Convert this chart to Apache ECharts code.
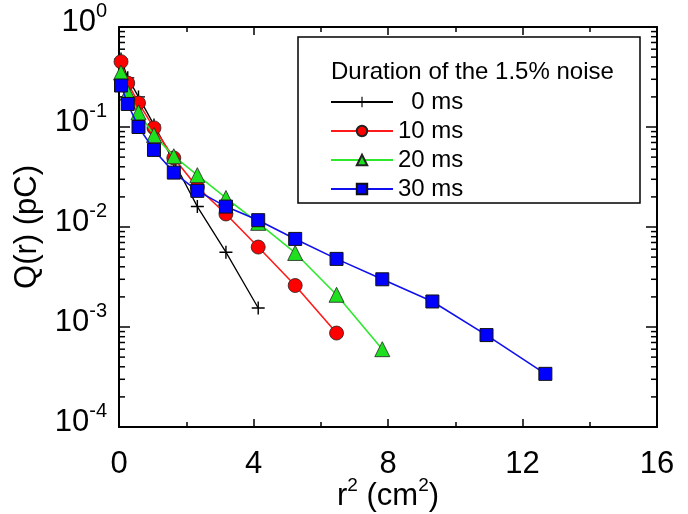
<!DOCTYPE html>
<html>
<head>
<meta charset="utf-8">
<script src="https://cdn.jsdelivr.net/npm/echarts@6/dist/echarts.min.js"></script>
<style>
html,body{margin:0;padding:0;background:#fff;}
#chart{width:688px;height:514px;}
</style>
</head>
<body>
<div id="chart"></div>
<script>
// ---- data ----
const r2 = [0.06, 0.26, 0.58, 1.04, 1.63, 2.33, 3.18, 4.14, 5.24, 6.47, 7.83, 9.32, 10.93, 12.68];
const q0ms  = [0.48, 0.31, 0.20, 0.105, 0.045, 0.016, 0.0056, 0.00155];
const q10ms = [0.45, 0.275, 0.174, 0.098, 0.049, 0.025, 0.0135, 0.0063, 0.0026, 0.00087];
const q20ms = [0.35, 0.22, 0.14, 0.083, 0.051, 0.033, 0.0195, 0.011, 0.0055, 0.0021, 0.0006];
const q30ms = [0.26, 0.17, 0.10, 0.059, 0.035, 0.023, 0.016, 0.0117, 0.0076, 0.0048, 0.0030, 0.0018, 0.00083, 0.00034];
const seriesNames = ['\u20070 ms', '10 ms', '20 ms', '30 ms'];
const legendTitle = 'Duration of the 1.5% noise';

// minor log ticks (2..9 in each decade)
const minorVals = [];
for (let d = -4; d < 0; d++) for (let m = 2; m <= 9; m++) minorVals.push(m * Math.pow(10, d));

function pairs(ys) { return ys.map((v, i) => [r2[i], v]); }

const FONT = 'Arial, "Liberation Sans", Helvetica, sans-serif';
const plus = 'path://M4.45,0h1.1v10h-1.1z M0,4.45h10v1.1h-10z';

const chart = echarts.init(document.getElementById('chart'), null, {renderer: 'canvas'});

const axisLineStyle = {color: '#000', width: 2};

const option = {
  animation: false,
  backgroundColor: '#fff',
  grid: {left: 119, right: 31, top: 27, bottom: 87, containLabel: false, outerBoundsMode: 'none'},
  xAxis: [{
    type: 'value', min: 0, max: 16, interval: 4, position: 'bottom',
    axisLine: {show: true, onZero: false, lineStyle: axisLineStyle},
    axisTick: {show: true, inside: true, length: 8, lineStyle: {color: '#000', width: 1.5}},
    minorTick: {show: true, splitNumber: 2, length: 5, lineStyle: {color: '#000', width: 1.5}},
    splitLine: {show: false},
    axisLabel: {show: true, margin: 22, fontSize: 31, color: '#000', fontFamily: FONT},
    name: '{n|r}{s|2}{n| (cm}{s|2}{n|)}',
    nameLocation: 'middle', nameGap: 49, nameMoveOverlap: false,
    nameTextStyle: {fontFamily: FONT, color: '#000',
      rich: {n: {fontSize: 31, fontFamily: FONT, color: '#000', lineHeight: 34, padding: [6, 0, 0, 0]},
             s: {fontSize: 19, fontFamily: FONT, color: '#000', lineHeight: 20, verticalAlign: 'top'}}}
  }, {
    type: 'value', min: 0, max: 16, interval: 4, position: 'top',
    axisLine: {show: true, onZero: false, lineStyle: axisLineStyle},
    axisTick: {show: true, inside: true, length: 8, lineStyle: {color: '#000', width: 1.5}},
    minorTick: {show: true, splitNumber: 2, length: 5, lineStyle: {color: '#000', width: 1.5}},
    splitLine: {show: false}, axisLabel: {show: false}
  }],
  yAxis: [{
    type: 'log', logBase: 10, min: 1e-4, max: 1, position: 'left',
    axisLine: {show: true, onZero: false, lineStyle: axisLineStyle},
    axisTick: {show: true, inside: true, length: 11, lineStyle: {color: '#000', width: 1.5}},
    splitLine: {show: false},
    axisLabel: {
      show: true, margin: 12, color: '#000', fontFamily: FONT,
      padding: [0, 0, 18, 0],
      formatter: function (v) {
        const e = Math.round(Math.log10(v));
        return '{b|10}{s|' + e + '}';
      },
      rich: {b: {fontSize: 31, fontFamily: FONT, color: '#000', lineHeight: 34, padding: [8, 0, 0, 0]},
             s: {fontSize: 20, fontFamily: FONT, color: '#000', lineHeight: 20, verticalAlign: 'top'}}
    },
    name: 'Q(r) (pC)', nameLocation: 'middle', nameGap: 76, nameRotate: 90, nameMoveOverlap: false,
    nameTextStyle: {fontSize: 31, fontFamily: FONT, color: '#000'}
  }, {
    type: 'log', logBase: 10, min: 1e-4, max: 1, position: 'right',
    axisLine: {show: true, onZero: false, lineStyle: axisLineStyle},
    axisTick: {show: true, inside: true, length: 11, lineStyle: {color: '#000', width: 1.5}},
    splitLine: {show: false}, axisLabel: {show: false}
  }],
  legend: {
    show: true, orient: 'vertical', left: 330, top: 90, z: 10,
    data: seriesNames,
    itemWidth: 62, itemHeight: 13, itemGap: 5,
    textStyle: {fontSize: 24, fontFamily: FONT, color: '#000', padding: [0, 0, 0, 0]},
    backgroundColor: 'transparent', borderWidth: 0, padding: 0
  },
  graphic: [{
    type: 'rect', z: 1, silent: true,
    shape: {x: 298, y: 37, width: 342, height: 166},
    style: {fill: '#fff', stroke: '#000', lineWidth: 1.5}
  }, {
    type: 'text', z: 2, silent: true, left: 331, top: 60,
    style: {text: legendTitle, fontSize: 24, fontFamily: FONT, fill: '#000'}
  }],
  series: [
    {
      name: seriesNames[0], type: 'line', data: pairs(q0ms), z: 5,
      symbol: plus, symbolSize: 13,
      lineStyle: {color: '#000', width: 1.3},
      itemStyle: {color: '#000', borderWidth: 0}
    },
    {
      name: seriesNames[1], type: 'line', data: pairs(q10ms), z: 6,
      symbol: 'circle', symbolSize: 14,
      lineStyle: {color: '#ff1a1a', width: 1.6},
      itemStyle: {color: '#ff0000', borderColor: '#222', borderWidth: 0.8}
    },
    {
      name: seriesNames[2], type: 'line', data: pairs(q20ms), z: 7,
      symbol: 'triangle', symbolSize: 15,
      lineStyle: {color: '#2ee82e', width: 1.6},
      itemStyle: {color: '#1ee01e', borderColor: '#222', borderWidth: 0.8}
    },
    {
      name: seriesNames[3], type: 'line', data: pairs(q30ms), z: 8,
      symbol: 'rect', symbolSize: 13,
      lineStyle: {color: '#1010ee', width: 1.6},
      itemStyle: {color: '#0000ff', borderColor: '#111', borderWidth: 1}
    },
    {
      name: 'minorTicks', type: 'custom', silent: true, z: 3,
      xAxisIndex: 0, yAxisIndex: 0,
      data: minorVals.map(v => [0, v]),
      encode: {x: 0, y: 1},
      clip: false,
      renderItem: function (params, api) {
        const v = api.value(1);
        const pl = api.coord([0, v]);
        const pr = api.coord([16, v]);
        const st = {stroke: '#000', lineWidth: 1.5};
        return {
          type: 'group',
          children: [
            {type: 'line', shape: {x1: pl[0], y1: pl[1], x2: pl[0] + 6, y2: pl[1]}, style: st},
            {type: 'line', shape: {x1: pr[0], y1: pr[1], x2: pr[0] - 6, y2: pr[1]}, style: st}
          ]
        };
      }
    }
  ]
};
chart.setOption(option);
</script>
</body>
</html>
